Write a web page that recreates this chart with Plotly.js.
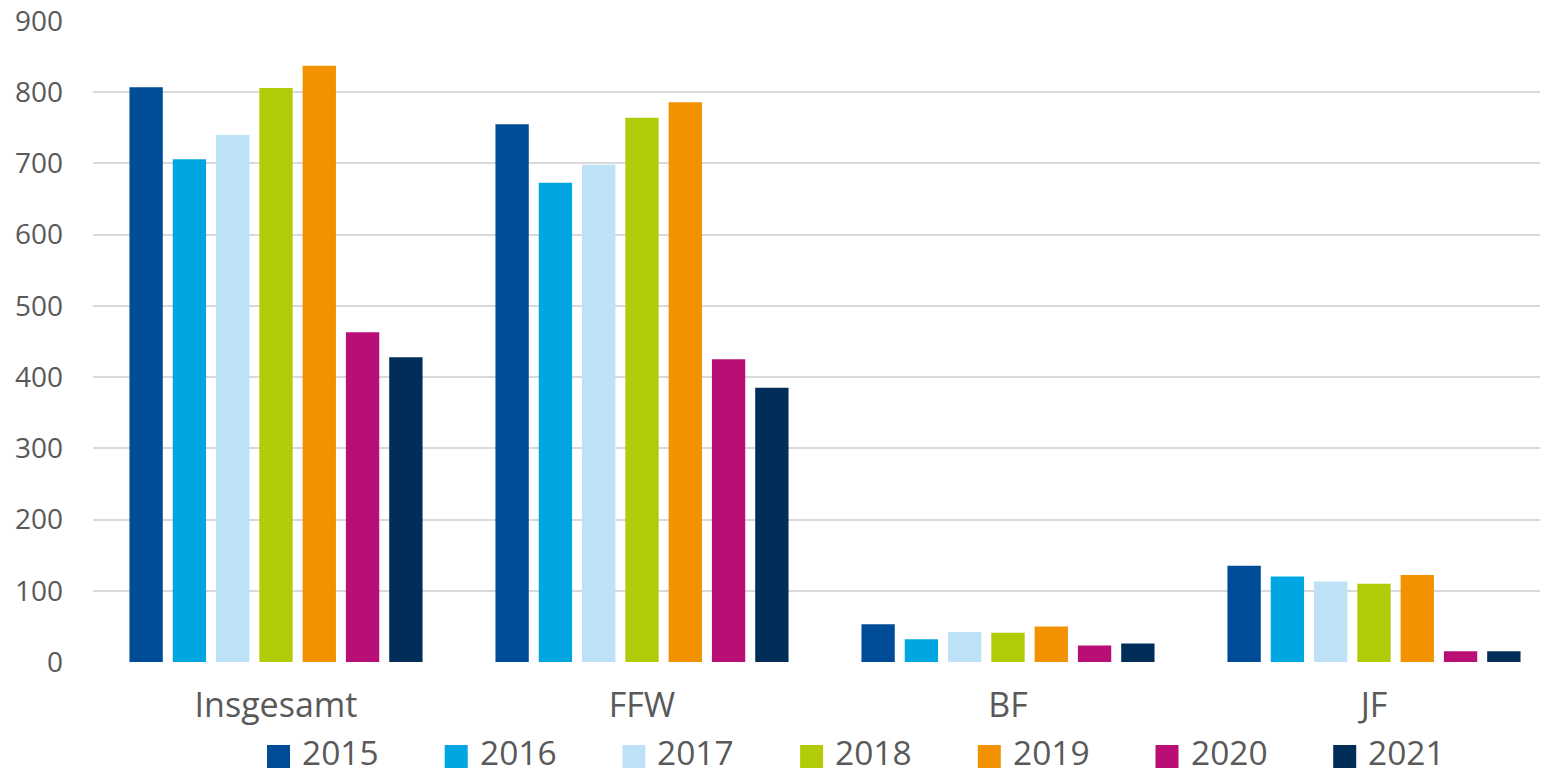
<!DOCTYPE html>
<html>
<head>
<meta charset="utf-8">
<script src="https://cdn.plot.ly/plotly-3.0.1.min.js"></script>
<style>html,body{margin:0;padding:0;background:#fff;}#chart{width:1551px;height:776px;}</style>
</head>
<body>
<div id="chart"></div>
<script>
const categories = ['Insgesamt', 'FFW', 'BF', 'JF'];
const years = ['2015', '2016', '2017', '2018', '2019', '2020', '2021'];
const v2015 = [807, 755, 53, 135];
const v2016 = [706, 673, 32, 120];
const v2017 = [740, 698, 42, 113];
const v2018 = [806, 764, 41, 110];
const v2019 = [837, 786, 50, 122];
const v2020 = [463, 425, 23, 15];
const v2021 = [428, 385, 26, 15];
const yTicks = [0, 100, 200, 300, 400, 500, 600, 700, 800, 900];

const series = [v2015, v2016, v2017, v2018, v2019, v2020, v2021];
const colors = ['#004C97', '#00A6E2', '#BDE2F8', '#B1CB08', '#F29200', '#B80E76', '#002E58'];

const traces = years.map((y, i) => ({
  type: 'bar',
  name: y,
  x: categories,
  y: series[i],
  marker: {color: colors[i], line: {width: 0}},
  showlegend: false,
  hoverinfo: 'x+y+name'
}));

// plot area geometry (pixels)
const L = 93, R = 1540, T = 21, B = 662;
const W = R - L, H = B - T;
const px = p => (p - L) / W;
const py = p => (B - p) / H;

const shapes = [];
const annotations = [];
years.forEach((y, i) => {
  const x0 = 267 + 177.7 * i;
  shapes.push({type: 'rect', xref: 'paper', yref: 'paper',
    x0: px(x0), x1: px(x0 + 23), y0: py(768), y1: py(745),
    fillcolor: colors[i], line: {width: 0}});
  annotations.push({xref: 'paper', yref: 'paper', x: px(x0 + 34), y: py(752),
    xanchor: 'left', yanchor: 'middle', showarrow: false, text: y,
    borderpad: 0,
    font: {family: 'Open Sans', size: 33.5, color: '#595959'}});
});

const layout = {
  width: 1551, height: 776,
  margin: {l: L, r: 1551 - R, t: T, b: 776 - B},
  paper_bgcolor: '#ffffff', plot_bgcolor: '#ffffff',
  barmode: 'group', bargap: 0.172, bargroupgap: 0.23,
  showlegend: false,
  font: {family: 'Open Sans', color: '#595959'},
  xaxis: {
    type: 'category', range: [-0.5, 3.4536],
    showgrid: false, zeroline: false, showline: false, ticks: '',
    tickfont: {family: 'Open Sans', size: 34, color: '#595959'},
    ticklabelstandoff: 20
  },
  yaxis: {
    range: [0, 900], tickvals: yTicks, ticktext: yTicks.map(String),
    showgrid: true, gridcolor: '#d9d9d9', gridwidth: 2,
    zeroline: false, showline: false, ticks: '',
    tickfont: {family: 'Open Sans', size: 28, color: '#595959'},
    ticklabelstandoff: 29
  },
  shapes: shapes,
  annotations: annotations
};

Plotly.newPlot('chart', traces, layout, {displayModeBar: false, staticPlot: true});
</script>
</body>
</html>
